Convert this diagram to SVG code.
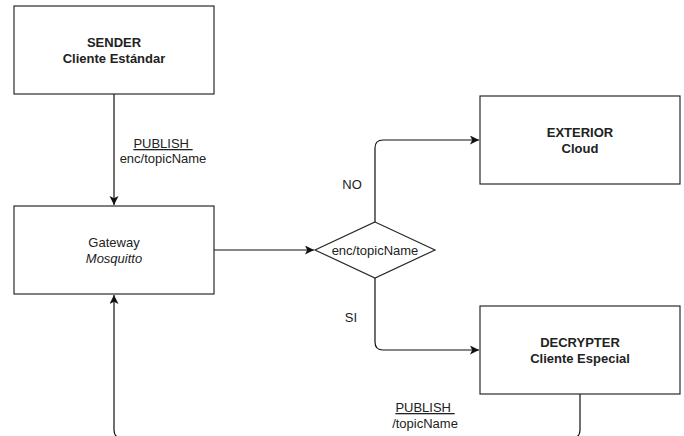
<svg xmlns="http://www.w3.org/2000/svg" width="684" height="436" viewBox="0 0 684 436">
  <style>
    .box { fill: #ffffff; stroke: #2a2a2a; stroke-width: 1.2; }
    .edge { fill: none; stroke: #111111; stroke-width: 1.2; }
    text { font-family: "Liberation Sans", Arial, sans-serif; font-size: 13px; fill: #222222; text-anchor: middle; }
    .b { font-weight: bold; }
    .i { font-style: italic; }
    .u { text-decoration: underline; }
  </style>
  <defs>
    <marker id="arrow" markerUnits="userSpaceOnUse" markerWidth="10" markerHeight="10" refX="9" refY="4.5" orient="auto">
      <path d="M0,0 L9,4.5 L0,9 L2.2,4.5 z" fill="#111111"/>
    </marker>
  </defs>
  <rect width="684" height="436" fill="#ffffff"/>

  <!-- connectors -->
  <g id="connectors">
    <path class="edge" d="M114,94 V205" marker-end="url(#arrow)"/>
    <path class="edge" d="M214,250 H314" marker-end="url(#arrow)"/>
    <path class="edge" d="M375,222 V148 Q375,140 383,140 H479" marker-end="url(#arrow)"/>
    <path class="edge" d="M375,278 V342 Q375,350 383,350 H479" marker-end="url(#arrow)"/>
    <path class="edge" d="M580,394 V430 Q580,438 572,438 H122 Q114,438 114,430 V295" marker-end="url(#arrow)"/>
    <text x="163" y="148" class="u">PUBLISH&#160;</text>
    <text x="163" y="163">enc/topicName</text>
    <text x="352" y="189">NO</text>
    <text x="351" y="322">SI</text>
    <text x="425" y="412" class="u">PUBLISH&#160;</text>
    <text x="425" y="428">/topicName</text>
  </g>

  <g id="sender">
    <rect class="box" x="14" y="6" width="200" height="88"/>
    <text x="114" y="47" class="b">SENDER</text>
    <text x="114" y="63" class="b">Cliente Estándar</text>
  </g>

  <g id="gateway">
    <rect class="box" x="14" y="206" width="200" height="88"/>
    <text x="114" y="247">Gateway</text>
    <text x="114" y="263" class="i">Mosquitto</text>
  </g>

  <g id="decision">
    <polygon class="box" points="375,222 435,250 375,278 315,250"/>
    <text x="375" y="255">enc/topicName</text>
  </g>

  <g id="exterior">
    <rect class="box" x="480" y="96" width="200" height="88"/>
    <text x="580" y="137" class="b">EXTERIOR</text>
    <text x="580" y="153" class="b">Cloud</text>
  </g>

  <g id="decrypter">
    <rect class="box" x="480" y="306" width="200" height="88"/>
    <text x="580" y="347" class="b">DECRYPTER</text>
    <text x="580" y="363" class="b">Cliente Especial</text>
  </g>
</svg>
